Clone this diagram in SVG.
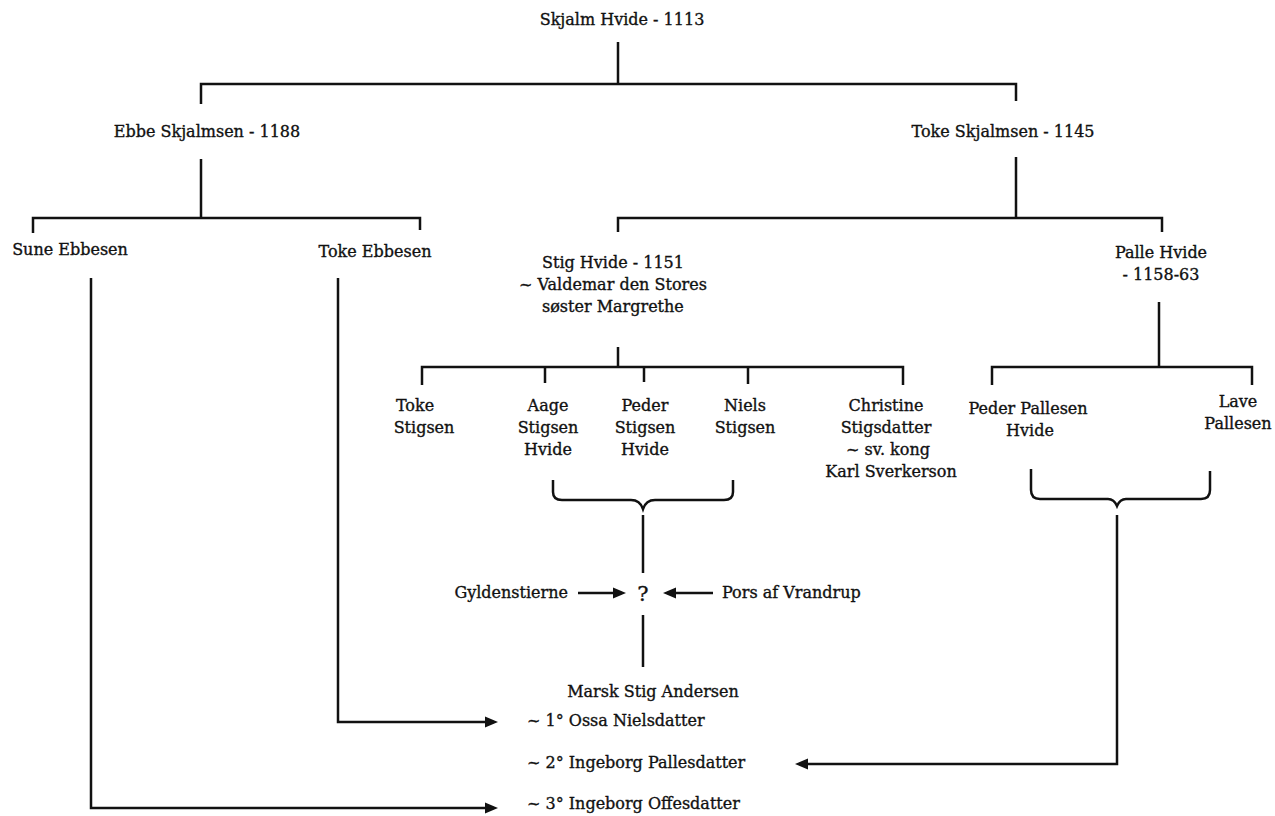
<svg xmlns="http://www.w3.org/2000/svg" width="1275" height="816" viewBox="0 0 1275 816">
<style>
text{font-family:"DejaVu Serif","Liberation Serif",serif;font-size:16px;fill:#111;stroke:#111;stroke-width:0.35}
.c{text-anchor:middle}
.e{text-anchor:end}
.q{font-size:21px}
.ln{fill:none;stroke:#111;stroke-width:2.5;stroke-linejoin:miter}
.ar{marker-end:url(#ah)}
</style>
<defs>
<marker id="ah" markerUnits="userSpaceOnUse" markerWidth="14" markerHeight="12" refX="9" refY="6" orient="auto">
<path d="M0,0.5 L13,6 L0,11.5 Z" fill="#111"/>
</marker>
</defs>
<rect width="1275" height="816" fill="#fff"/>
<g id="connectors">
<path class="ln" d="M618,42 V84 M201,104 V84 H1016 V101"/>
<path class="ln" d="M201,159 V218 M33,233 V218 H420 V230"/>
<path class="ln" d="M1016,157 V218 M618,232 V218 H1162 V232"/>
<path class="ln" d="M618,347 V367 M422,385 V367 H903 V385 M545,367 V383 M644,367 V382 M748,367 V384"/>
<path class="ln" d="M1159,302 V367 M992,385 V367 H1252 V385"/>
<path class="ln" d="M553,480 V492 Q553,500 562,500 H631 Q640,500 643,509 Q646,500 655,500 H724 Q733,500 733,492 V480"/>
<path class="ln" d="M643,515 V573"/>
<path class="ln" d="M643,615 V667"/>
<path class="ln ar" d="M578,593 H622"/>
<path class="ln ar" d="M713,593 H667"/>
<path class="ln" d="M1031,469 V490 Q1031,499 1040,499 H1108 Q1114,499 1117,506 Q1120,499 1126,499 H1201 Q1210,499 1210,490 V471"/>
<path class="ln ar" d="M1117,515 V764 H799"/>
<path class="ln ar" d="M338,278 V722 H494"/>
<path class="ln ar" d="M91,278 V808 H494"/>
</g>
<g id="skjalm"><text class="c" x="622" y="25">Skjalm Hvide - 1113</text></g>
<g id="ebbe"><text class="c" x="207" y="137">Ebbe Skjalmsen - 1188</text></g>
<g id="toke-skjalmsen"><text class="c" x="1003" y="137">Toke Skjalmsen - 1145</text></g>
<g id="sune"><text class="c" x="70" y="255">Sune Ebbesen</text></g>
<g id="toke-ebbesen"><text class="c" x="375" y="257">Toke Ebbesen</text></g>
<g id="stig-hvide">
<text x="542" y="268">Stig Hvide - 1151</text>
<text x="519" y="290">~ Valdemar den Stores</text>
<text x="542" y="312">søster Margrethe</text>
</g>
<g id="palle"><text class="c" x="1161" y="258">Palle Hvide</text><text class="c" x="1161" y="280">- 1158-63</text></g>
<g id="toke-stigsen"><text class="c" x="415" y="411">Toke</text><text class="c" x="424" y="433">Stigsen</text></g>
<g id="aage"><text class="c" x="548" y="411">Aage</text><text class="c" x="548" y="433">Stigsen</text><text class="c" x="548" y="455">Hvide</text></g>
<g id="peder-stigsen"><text class="c" x="645" y="411">Peder</text><text class="c" x="645" y="433">Stigsen</text><text class="c" x="645" y="455">Hvide</text></g>
<g id="niels"><text class="c" x="745" y="411">Niels</text><text class="c" x="745" y="433">Stigsen</text></g>
<g id="christine"><text class="c" x="886" y="411">Christine</text><text class="c" x="886" y="433">Stigsdatter</text><text class="c" x="888" y="455">~ sv. kong</text><text class="c" x="891" y="477">Karl Sverkerson</text></g>
<g id="peder-pallesen"><text class="c" x="1028" y="414">Peder Pallesen</text><text class="c" x="1030" y="436">Hvide</text></g>
<g id="lave"><text class="c" x="1238" y="407">Lave</text><text class="c" x="1238" y="429">Pallesen</text></g>
<g id="gyldenstierne"><text class="e" x="568" y="598">Gyldenstierne</text></g>
<g id="unknown"><text class="c q" x="643" y="601">?</text></g>
<g id="pors"><text x="722" y="598">Pors af Vrandrup</text></g>
<g id="marsk"><text class="c" x="653" y="697">Marsk Stig Andersen</text></g>
<g id="wife1"><text x="527" y="726">~ 1° Ossa Nielsdatter</text></g>
<g id="wife2"><text x="527" y="768">~ 2° Ingeborg Pallesdatter</text></g>
<g id="wife3"><text x="527" y="809">~ 3° Ingeborg Offesdatter</text></g>
</svg>
